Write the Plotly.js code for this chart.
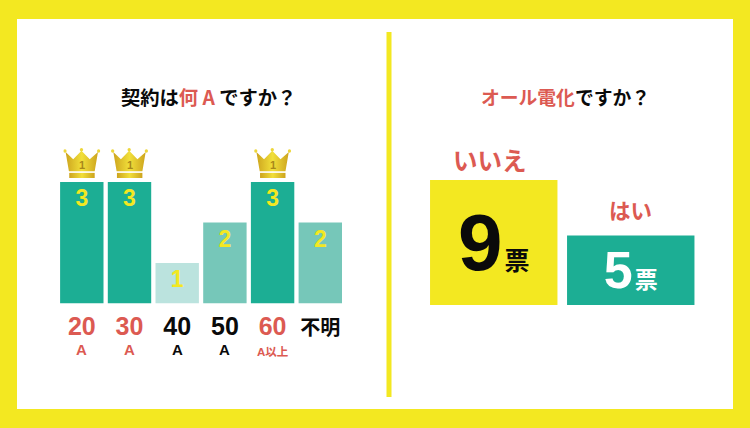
<!DOCTYPE html>
<html><head><meta charset="utf-8">
<script src="https://cdn.plot.ly/plotly-3.0.1.min.js"></script>
<style>html,body{margin:0;padding:0;background:#f4e922}#c{width:750px;height:428px}</style>
</head><body><div id="c"></div>
<script>
const ampCats = ['20','30','40','50','60','不明'];
const ampUnits = ['A','A','A','A','A以上',''];
const ampValues = [3,3,1,2,3,2];
const ampHighlighted = [true,true,false,false,true,false];
const elecCats = ['いいえ','はい'];
const elecValues = [9,5];
const unit = '票';

const RED='#dc5a52', BLK='#0a0a0a', YEL='#f3e821', TEAL='#1cae94';
const SANS='"Liberation Sans","Noto Sans CJK JP",sans-serif';
const CJK='"Noto Sans CJK JP",sans-serif';
const W=750,H=428;
const shade={3:TEAL,2:'#76c7b9',1:'#bbe3de'};
const px=v=>v/W, py=v=>1-v/H;

const crownSvg=`<svg xmlns="http://www.w3.org/2000/svg" viewBox="0 0 112 88" width="112" height="88">
<defs><linearGradient id="g" x1="0" y1="0" x2="1" y2="0"><stop offset="0" stop-color="#cda41e"/><stop offset=".5" stop-color="#f1df3a"/><stop offset="1" stop-color="#cda41e"/></linearGradient></defs>
<path d="M7 12 L30 33 L55 8 L80 33 L105 12 L95 68 L17 68 Z" fill="url(#g)"/>
<rect x="18" y="73" width="77" height="15" fill="url(#g)"/>
<circle cx="5" cy="9" r="5" fill="#edd63a"/><circle cx="55" cy="5" r="5" fill="#edd63a"/><circle cx="107" cy="9" r="5" fill="#edd63a"/>
</svg>`;
const crownSrc='data:image/svg+xml;charset=utf-8,'+encodeURIComponent(crownSvg);
const maxAmp=Math.max(...ampValues);
const crownIdx=ampValues.map((v,i)=>ampHighlighted[i]?i:-1).filter(i=>i>=0);

const data=[
 {type:'bar',x:ampCats.map((_,i)=>i),y:ampValues,width:0.91,xaxis:'x',yaxis:'y',
  marker:{color:ampValues.map(v=>shade[v]),line:{width:0}},
  text:ampValues.map(String),textposition:'inside',insidetextanchor:'end',textangle:0,constraintext:'none',
  insidetextfont:{family:SANS,size:23,color:YEL,weight:700},hoverinfo:'skip'},
 {type:'bar',x:elecCats.map((_,i)=>i),y:elecValues,width:0.93,xaxis:'x2',yaxis:'y2',
  marker:{color:[YEL,TEAL],line:{width:0}},
  text:[`<b>${elecValues[0]}</b><span style="font-size:8px"> </span><span style="font-size:25px;font-family:'Noto Sans CJK JP'"><b>${unit}</b></span>`,
        `<b>${elecValues[1]}</b><span style="font-size:8px"> </span><span style="font-size:23px;font-family:'Noto Sans CJK JP'"><b>${unit}</b></span>`],
  textposition:'inside',insidetextanchor:'middle',textangle:0,constraintext:'none',
  insidetextfont:{family:SANS,size:[80,52],color:[BLK,'#ffffff']},hoverinfo:'skip'}
];

const annotations=[
 {xref:'paper',yref:'paper',x:px(208.5),y:py(97),xanchor:'center',yanchor:'middle',showarrow:false,
  font:{family:CJK,size:19.3,color:BLK,weight:700},
  text:`契約は<span style="color:${RED}">何 A</span> ですか？`},
 {xref:'paper',yref:'paper',x:px(565),y:py(97),xanchor:'center',yanchor:'middle',showarrow:false,
  font:{family:CJK,size:18.8,color:BLK,weight:700},
  text:`<span style="color:${RED}">オール電化</span>ですか？`}
];
ampUnits.forEach((u,i)=>{ if(!u) return;
 annotations.push({xref:'x',yref:'paper',x:i,y:py(u.length>1?351.5:349.5),xanchor:'center',yanchor:'middle',showarrow:false,
  font:{family:SANS,size:u.length>1?11.5:15,color:ampHighlighted[i]?RED:BLK,weight:700},text:u});
});
crownIdx.forEach(i=>annotations.push({xref:'x',yref:'y',x:i,y:maxAmp,yshift:17,xanchor:'center',yanchor:'middle',showarrow:false,
  font:{family:SANS,size:11,color:'#a8871a',weight:700},text:'1'}));
elecCats.forEach((c,i)=>annotations.push({xref:'x2',yref:'y2',x:i,y:elecValues[i],yshift:i?26:20,xshift:i?0:-3.5,xanchor:'center',yanchor:'middle',showarrow:false,
  font:{family:CJK,size:i?21.5:24.5,color:RED,weight:700},text:c}));

const images=crownIdx.map(i=>({source:crownSrc,xref:'x',yref:'y',x:i,y:maxAmp+34/40.5,xanchor:'center',yanchor:'top',
  sizex:37/47.7,sizey:30/40.5,sizing:'stretch',layer:'above'}));

const layout={
 width:W,height:H,margin:{l:0,r:0,t:0,b:0},paper_bgcolor:YEL,plot_bgcolor:'rgba(0,0,0,0)',showlegend:false,
 font:{family:SANS},
 xaxis:{domain:[px(57.95),px(344.15)],range:[-0.5,5.5],tickmode:'array',tickvals:ampCats.map((_,i)=>i),
  ticktext:ampCats.map((c,i)=>{const col=ampHighlighted[i]?RED:BLK;
    return /^\d+$/.test(c)?`<span style="color:${col}">${c}</span>`:`<span style="color:${col};font-size:20px;font-family:'Noto Sans CJK JP'">${c}</span>`;}),
  tickfont:{family:SANS,size:25,weight:700},ticks:'',ticklabelstandoff:5,showline:false,showgrid:false,zeroline:false,fixedrange:true,tickangle:0,automargin:false},
 yaxis:{domain:[py(303.5),py(141.5)],range:[0,4],visible:false,fixedrange:true},
 xaxis2:{domain:[px(425.25),px(699.25)],range:[-0.5,1.5],visible:false,fixedrange:true,anchor:'y2'},
 yaxis2:{domain:[py(305),py(166)],range:[0,10],visible:false,fixedrange:true,anchor:'x2'},
 shapes:[
  {type:'rect',xref:'paper',yref:'paper',x0:px(17),x1:px(733),y0:py(19),y1:py(409),fillcolor:'#ffffff',line:{width:0},layer:'below'},
  {type:'rect',xref:'paper',yref:'paper',x0:px(386.5),x1:px(391.5),y0:py(32),y1:py(397),fillcolor:YEL,line:{width:0},layer:'below'}
 ],
 annotations,images
};
Plotly.newPlot('c',data,layout,{staticPlot:true,displayModeBar:false});
</script></body></html>
